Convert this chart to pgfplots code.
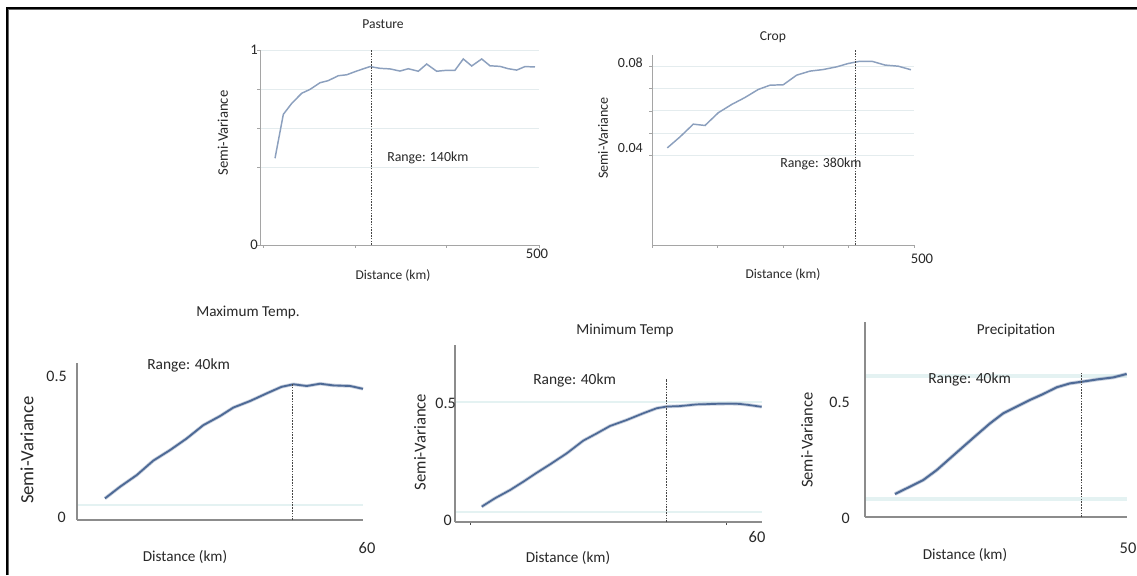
\documentclass[border=0pt]{standalone}
\usepackage{pgfplots}
\pgfplotsset{compat=1.18}
\usepackage{fontspec}
\setmainfont{Carlito}
\definecolor{toplinec}{RGB}{140,160,190}
\definecolor{botlinec}{RGB}{78,106,150}
\definecolor{axgray}{RGB}{165,165,165}
\definecolor{axgrayd}{RGB}{140,140,140}
\definecolor{gridc}{RGB}{228,236,238}
\definecolor{gridb}{RGB}{228,242,242}
\definecolor{txt}{RGB}{40,40,40}
\definecolor{dashc}{RGB}{70,70,70}
\newcommand{\fs}[1]{\fontsize{#1}{#1}\selectfont}
\pgfplotsset{
  sv/.style={scale only axis, axis lines=left, axis line style={-}, enlargelimits=false,
    xticklabels=\empty, yticklabels=\empty, scaled ticks=false, tick align=outside, major tick length=2pt, clip=false},
  svtop/.style={sv, x axis line style={draw=axgray, line width=0.6pt}, y axis line style={draw=axgray, line width=0.6pt},
    tick style={draw=axgray}, grid style={draw=gridc, line width=0.6pt}, ymajorgrids},
  svbot/.style={sv, x axis line style={draw=axgrayd, line width=1.2pt}, y axis line style={draw=axgrayd, line width=1.2pt},
    ytick style={draw=none}, xtick style={draw=black!70, line width=0.8pt}, ymajorgrids},
  dl/.style={dashc, line width=0.7pt, dash pattern=on 1.2pt off 0.9pt},
}
\begin{document}
\begin{tikzpicture}
\useasboundingbox (0,0) rectangle (852.75pt,431.25pt);
\fill[white] (0,0) rectangle (852.75pt,431.25pt);
% frame
\draw[black!60, line width=0.75pt] (6.4pt,0) -- (6.4pt,423.9pt) -- (853pt,423.9pt);
\draw[black, line width=1.5pt] (5.25pt,0) -- (5.25pt,425.0pt) -- (853pt,425.0pt);

% Pasture
\begin{axis}[svtop, at={(195pt,247.5pt)}, anchor=south west, width=209.25pt, height=146.25pt,
  xmin=0, xmax=500, ymin=0, ymax=1, xtick={5,170,333,500}, ytick={0,0.4,0.6,0.8,1}]
\addplot[toplinec, line width=1.1pt] coordinates {(26.9,0.445)(41.8,0.670)(56.8,0.726)(74.7,0.778)(89.6,0.798)(107.5,0.832)(122.4,0.843)(140.3,0.868)(155.4,0.873)(173.3,0.892)(197.1,0.915)(215,0.906)(233,0.903)(250.9,0.892)(265.8,0.904)(283.7,0.891)(298.7,0.928)(316.6,0.891)(334.6,0.896)(349.4,0.896)(364.3,0.954)(379.4,0.918)(397.3,0.954)(412.2,0.919)(430.1,0.916)(445,0.904)(460,0.897)(474.9,0.915)(492.8,0.913)};
\addplot[dl] coordinates {(199,0) (199,1)};
\end{axis}

% Crop
\begin{axis}[svtop, at={(489pt,247.5pt)}, anchor=south west, width=196.5pt, height=142.5pt,
  xmin=0, xmax=500, ymin=0, ymax=0.0849, xtick={0,125,250,375,500}, ytick={0.04,0.05,0.06,0.07,0.08}]
\addplot[toplinec, line width=1.1pt] coordinates {(29.2,0.0434)(53.4,0.0483)(78.8,0.0540)(101.1,0.0534)(126.5,0.0591)(152.1,0.0628)(177.4,0.0659)(202.8,0.0695)(225.1,0.0714)(250.5,0.0716)(276.1,0.0759)(301.5,0.0777)(326.8,0.0784)(352.4,0.0796)(374.5,0.0811)(396.9,0.0821)(421.1,0.0820)(444.6,0.0804)(469.9,0.0799)(494.2,0.0783)};
\addplot[dl] coordinates {(389,0) (389,0.087)};
\end{axis}

% Maximum Temp.
\begin{axis}[svbot, at={(57.75pt,41.25pt)}, anchor=south west, width=214.5pt, height=117.75pt,
  xmin=0, xmax=60, ymin=0, ymax=0.553, xtick=\empty, ytick={0.053},
  grid style={draw=gridb, line width=1.2pt}]
\addplot[botlinec!60, line width=2.6pt, opacity=0.5] coordinates {(5.87,0.076)(9.02,0.117)(12.52,0.158)(16.0,0.209)(19.5,0.246)(23.0,0.287)(26.5,0.334)(30.0,0.366)(32.8,0.396)(36.3,0.419)(39.8,0.446)(42.9,0.469)(45.4,0.478)(48.2,0.472)(51.0,0.480)(53.8,0.474)(57.3,0.472)(60.0,0.462)};
\addplot[botlinec, line width=1.4pt] coordinates {(5.87,0.076)(9.02,0.117)(12.52,0.158)(16.0,0.209)(19.5,0.246)(23.0,0.287)(26.5,0.334)(30.0,0.366)(32.8,0.396)(36.3,0.419)(39.8,0.446)(42.9,0.469)(45.4,0.478)(48.2,0.472)(51.0,0.480)(53.8,0.474)(57.3,0.472)(60.0,0.462)};
\addplot[dl] coordinates {(45.1,0) (45.1,0.482)};
\end{axis}

% Minimum Temp
\begin{axis}[svbot, at={(341.25pt,39.75pt)}, anchor=south west, width=230.25pt, height=132.75pt,
  xmin=0, xmax=60, ymin=0, ymax=0.7375, xtick={3,53}, ytick={0.042,0.5},
  grid style={draw=gridb, line width=1pt}]
\addplot[botlinec!60, line width=2.6pt, opacity=0.5] coordinates {(5.22,0.064)(7.82,0.099)(10.75,0.133)(13.35,0.168)(15.96,0.205)(18.56,0.240)(21.83,0.286)(25.07,0.339)(27.69,0.369)(30.29,0.400)(33.55,0.425)(36.79,0.453)(39.41,0.474)(41.37,0.481)(43.97,0.483)(47.23,0.490)(50.47,0.492)(53.73,0.493)(55.69,0.492)(57.64,0.487)(59.93,0.480)};
\addplot[botlinec, line width=1.3pt] coordinates {(5.22,0.064)(7.82,0.099)(10.75,0.133)(13.35,0.168)(15.96,0.205)(18.56,0.240)(21.83,0.286)(25.07,0.339)(27.69,0.369)(30.29,0.400)(33.55,0.425)(36.79,0.453)(39.41,0.474)(41.37,0.481)(43.97,0.483)(47.23,0.490)(50.47,0.492)(53.73,0.493)(55.69,0.492)(57.64,0.487)(59.93,0.480)};
\addplot[dl] coordinates {(41.4,0) (41.4,0.596)};
\end{axis}

% Precipitation
\begin{axis}[svbot, at={(648.75pt,43.5pt)}, anchor=south west, width=196.5pt, height=146.25pt,
  xmin=0, xmax=50, ymin=0, ymax=0.848, xtick=\empty, ytick={0.078,0.613},
  grid style={draw=gridb, line width=3pt}]
\addplot[botlinec!60, line width=2.8pt, opacity=0.5] coordinates {(5.72,0.100)(8.59,0.132)(11.13,0.161)(13.68,0.204)(16.22,0.255)(18.76,0.306)(21.31,0.357)(23.85,0.407)(26.39,0.451)(28.94,0.480)(31.48,0.509)(34.02,0.535)(36.58,0.564)(39.11,0.581)(41.35,0.588)(44.21,0.598)(47.38,0.607)(49.93,0.622)};
\addplot[botlinec, line width=1.5pt] coordinates {(5.72,0.100)(8.59,0.132)(11.13,0.161)(13.68,0.204)(16.22,0.255)(18.76,0.306)(21.31,0.357)(23.85,0.407)(26.39,0.451)(28.94,0.480)(31.48,0.509)(34.02,0.535)(36.58,0.564)(39.11,0.581)(41.35,0.588)(44.21,0.598)(47.38,0.607)(49.93,0.622)};
\addplot[dl] coordinates {(41.4,0) (41.4,0.626)};
\end{axis}

% ---- texts: top row
\begin{scope}[every node/.style={text=txt, inner sep=0pt}]
\node at (287.25pt,413.25pt) {\fs{10.2pt}Pasture};
\node[rotate=90] at (167.25pt,331.5pt) {\fs{11pt}Semi-Variance};
\node at (294.75pt,224.25pt) {\fs{10.1pt}Distance (km)};
\node[anchor=west] at (290.25pt,312.75pt) {\fs{10.4pt}Range: 140km};
\node at (402.75pt,240.75pt) {\fs{11pt}500};
\node[anchor=east] at (193.5pt,393.75pt) {\fs{11pt}1};
\node[anchor=east] at (193.5pt,247.5pt) {\fs{11pt}0};

\node at (579.75pt,403.5pt) {\fs{10.2pt}Crop};
\node[rotate=90] at (452.25pt,327.75pt) {\fs{10.6pt}Semi-Variance};
\node at (587.25pt,225pt) {\fs{10.1pt}Distance (km)};
\node[anchor=west] at (585pt,308.25pt) {\fs{10.4pt}Range: 380km};
\node at (691.5pt,237pt) {\fs{11pt}500};
\node[anchor=east] at (482.25pt,384pt) {\fs{10.5pt}0.08};
\node[anchor=east] at (482.25pt,320.25pt) {\fs{10.5pt}0.04};

% ---- bottom row
\node at (186pt,197.25pt) {\fs{11.4pt}Maximum Temp.};
\node[rotate=90] at (20.25pt,93.75pt) {\fs{14pt}Semi-Variance};
\node at (138.75pt,13.5pt) {\fs{11.4pt}Distance (km)};
\node[anchor=west] at (110.25pt,157.5pt) {\fs{11.6pt}Range: 40km};
\node at (275.25pt,20.25pt) {\fs{12.3pt}60};
\node[anchor=east] at (50.25pt,149.25pt) {\fs{12pt}0.5};
\node[anchor=east] at (49.5pt,43.5pt) {\fs{12pt}0};

\node at (468.75pt,183.75pt) {\fs{11.4pt}Minimum Temp};
\node[rotate=90] at (315pt,99.75pt) {\fs{12.5pt}Semi-Variance};
\node at (426pt,12.75pt) {\fs{11.4pt}Distance (km)};
\node[anchor=west] at (399.75pt,146.25pt) {\fs{11.6pt}Range: 40km};
\node at (567.75pt,28.5pt) {\fs{12.3pt}60};
\node[anchor=east] at (342pt,129pt) {\fs{12pt}0.5};
\node[anchor=east] at (339pt,41.25pt) {\fs{12pt}0};

\node at (762pt,183.75pt) {\fs{11.4pt}Precipitation};
\node[rotate=90] at (605.25pt,101.25pt) {\fs{12.4pt}Semi-Variance};
\node at (723.75pt,15pt) {\fs{11.4pt}Distance (km)};
\node[anchor=west] at (696pt,147pt) {\fs{11.6pt}Range: 40km};
\node at (846pt,20.25pt) {\fs{12.3pt}50};
\node[anchor=east] at (637.5pt,129.75pt) {\fs{12pt}0.5};
\node[anchor=east] at (637.5pt,42.75pt) {\fs{12pt}0};
\end{scope}
\end{tikzpicture}
\end{document}
